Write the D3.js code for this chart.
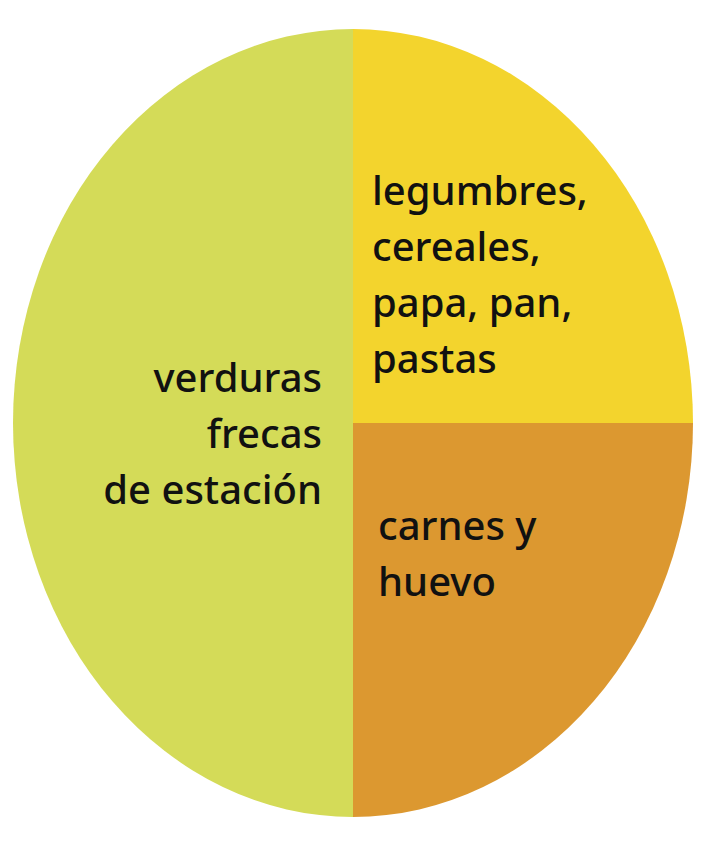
<!DOCTYPE html>
<html>
<head>
<meta charset="utf-8">
<script src="https://cdn.jsdelivr.net/npm/d3@7"></script>
<style>
  html, body { margin: 0; padding: 0; background: #ffffff; }
  svg { display: block; }
</style>
</head>
<body>
<script>
// ---- data ----
const categories = ["legumbres, cereales, papa, pan, pastas", "carnes y huevo", "verduras frecas de estación"];
const values = [25, 25, 50];
const labelLines = [
  ["legumbres,", "cereales,", "papa, pan,", "pastas"],
  ["carnes y", "huevo"],
  ["verduras", "frecas", "de estación"]
];
const colors = ["#F3D42D", "#DC9830", "#D4DB58"];

// ---- layout ----
const W = 720, H = 841;
const cx = 353, cy = 423;   // centre of the ellipse
const rx = 340, ry = 394;   // ellipse radii

const svg = d3.select("body").append("svg")
  .attr("width", W).attr("height", H);

const pie = d3.pie().sort(null).value(d => d)
  .startAngle(0).endAngle(2 * Math.PI);
const arcs = pie(values);
const arc = d3.arc().innerRadius(0).outerRadius(1);

const color = d3.scaleOrdinal().domain(categories).range(colors);

const g = svg.append("g")
  .attr("transform", `translate(${cx},${cy}) scale(${rx},${ry})`);

g.selectAll("path").data(arcs).join("path")
  .attr("d", arc)
  .attr("fill", (d, i) => color(categories[i]));

// ---- labels ----
const fontSize = 40, lineH = 56;
const labelSpec = [
  { x: cx + 19, y: 205, anchor: "start" },
  { x: cx + 25, y: 540, anchor: "start" },
  { x: cx - 31, y: 392, anchor: "end" }
];

labelLines.forEach((lines, i) => {
  const t = svg.append("text")
    .attr("font-family", "'Noto Sans', 'Open Sans', sans-serif")
    .attr("font-size", fontSize)
    .attr("font-weight", 500)
    .attr("fill", "#111")
    .attr("text-anchor", labelSpec[i].anchor);
  lines.forEach((ln, j) => {
    t.append("tspan")
      .attr("x", labelSpec[i].x)
      .attr("y", labelSpec[i].y + j * lineH)
      .text(ln);
  });
});
</script>
</body>
</html>
